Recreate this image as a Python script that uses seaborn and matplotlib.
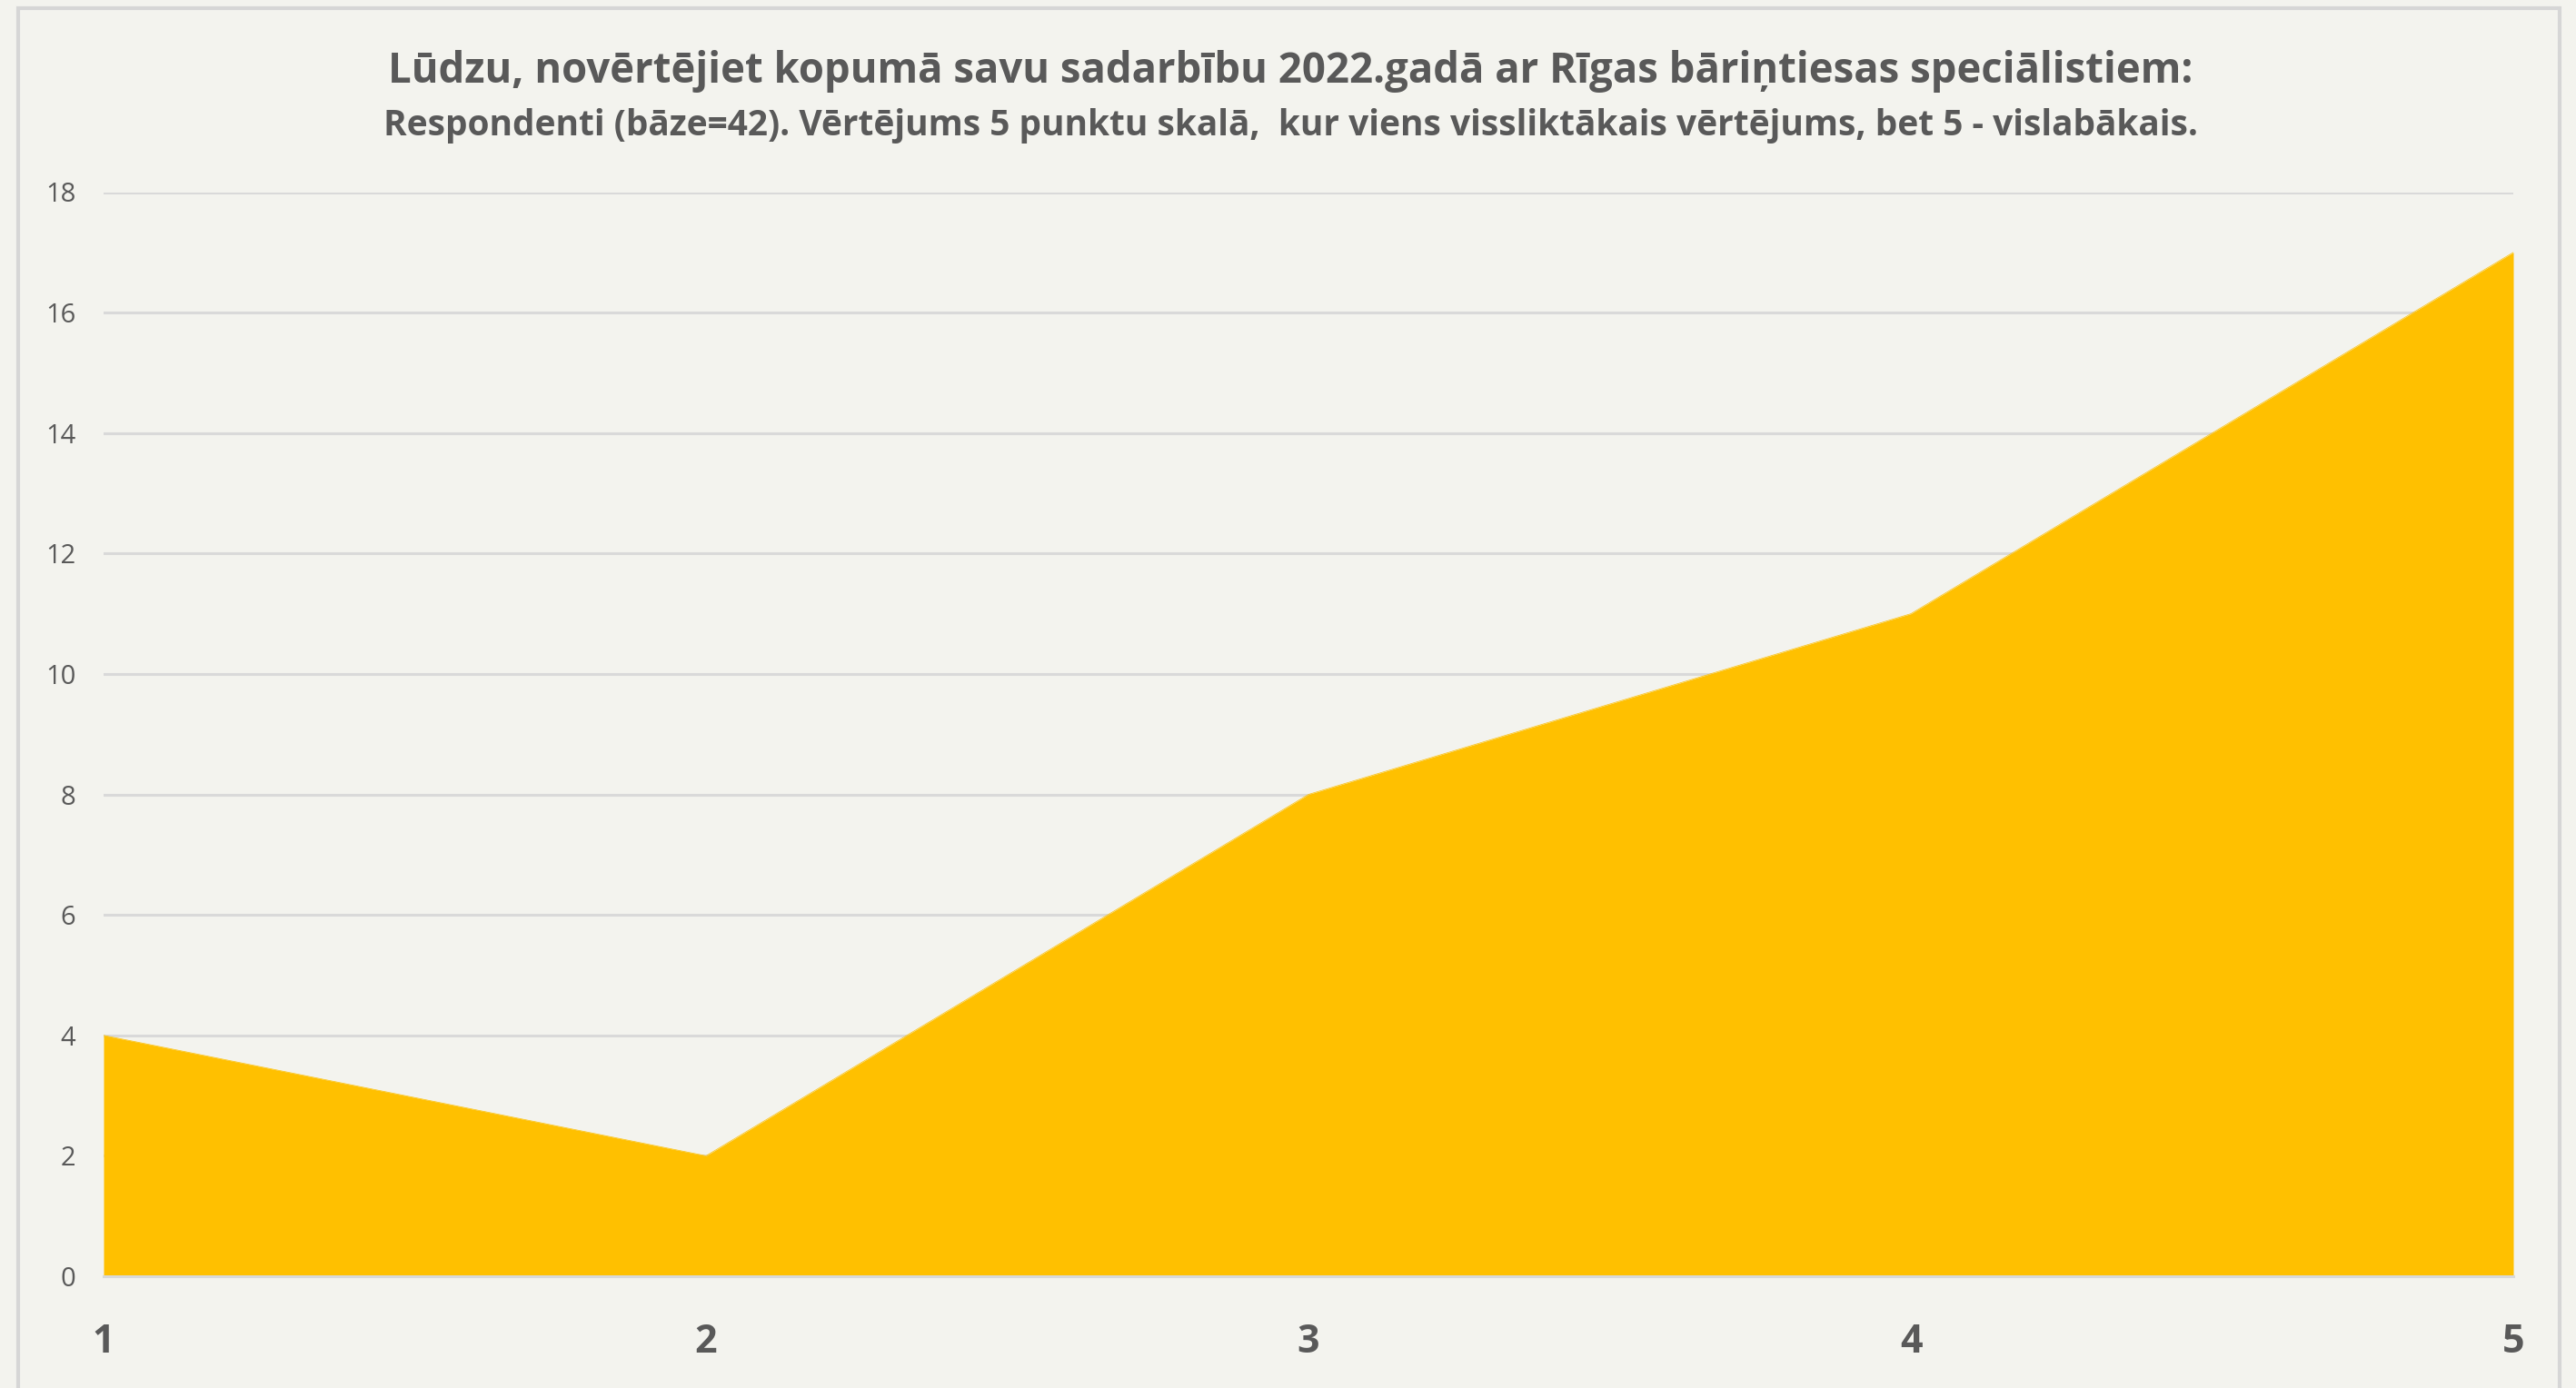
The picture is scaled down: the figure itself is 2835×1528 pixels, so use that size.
import matplotlib
matplotlib.use("Agg")
import matplotlib.pyplot as plt
import seaborn as sns
import pandas as pd
from matplotlib.patches import Rectangle

# Data
ratings = [1, 2, 3, 4, 5]
counts = [4, 2, 8, 11, 17]
y_ticks = [0, 2, 4, 6, 8, 10, 12, 14, 16, 18]
title = "Lūdzu, novērtējiet kopumā savu sadarbību 2022.gadā ar Rīgas bāriņtiesas speciālistiem:"
subtitle = "Respondenti (bāze=42). Vērtējums 5 punktu skalā,  kur viens vissliktākais vērtējums, bet 5 - vislabākais."

BG = "#F3F3EE"
YELLOW = "#FFC000"
GRID = "#D9D9D9"
TEXT = "#595959"

sns.set_theme(style="white")
plt.rcParams["font.family"] = ["Open Sans", "DejaVu Sans"]

W, H = 2835, 1528
fig = plt.figure(figsize=(W / 100, H / 100), dpi=100, facecolor=BG)

left, right = 114 / W, 2766 / W
bottom, top = 1 - 1405 / H, 1 - 211.5 / H
ax = fig.add_axes([left, bottom, right - left, top - bottom])
ax.set_facecolor(BG)

df = pd.DataFrame({"rating": ratings, "count": counts})
ax.fill_between(df["rating"], 0, df["count"], color=YELLOW, linewidth=0, zorder=2)
sns.lineplot(data=df, x="rating", y="count", ax=ax, color=YELLOW, linewidth=0.5, zorder=2)

ax.set_xlim(1, 5)
ax.set_ylim(0, 18)
ax.set_yticks(y_ticks)
ax.set_xticks(ratings)
ax.set_xticklabels([str(r) for r in ratings], fontsize=31, fontweight="bold", color=TEXT)
ax.set_yticklabels([str(v) for v in y_ticks], fontsize=21, color=TEXT)
ax.tick_params(axis="x", length=0, pad=37)
ax.tick_params(axis="y", length=0, pad=22)
ax.grid(axis="y", color=GRID, linewidth=2.2, zorder=1)
ax.set_axisbelow(True)
ax.set_xlabel("")
ax.set_ylabel("")
for s in ["top", "right", "left"]:
    ax.spines[s].set_visible(False)
ax.spines["bottom"].set_color(GRID)
ax.spines["bottom"].set_linewidth(2.2)
ax.spines["bottom"].set_zorder(3)

# outer frame
fig.patches.append(Rectangle((20 / W, -0.05), (2817 - 20) / W, 1.05 - 9 / H,
                             transform=fig.transFigure, fill=False,
                             edgecolor="#D6D6D6", linewidth=3))

fig.text(1420 / W, 1 - 78 / H, title, ha="center", va="center",
         fontsize=32.8, fontweight="bold", color=TEXT)
fig.text(1420 / W, 1 - 139 / H, subtitle, ha="center", va="center",
         fontsize=28, fontweight="bold", color=TEXT)

fig.savefig("out.png", dpi=100, facecolor=BG)
